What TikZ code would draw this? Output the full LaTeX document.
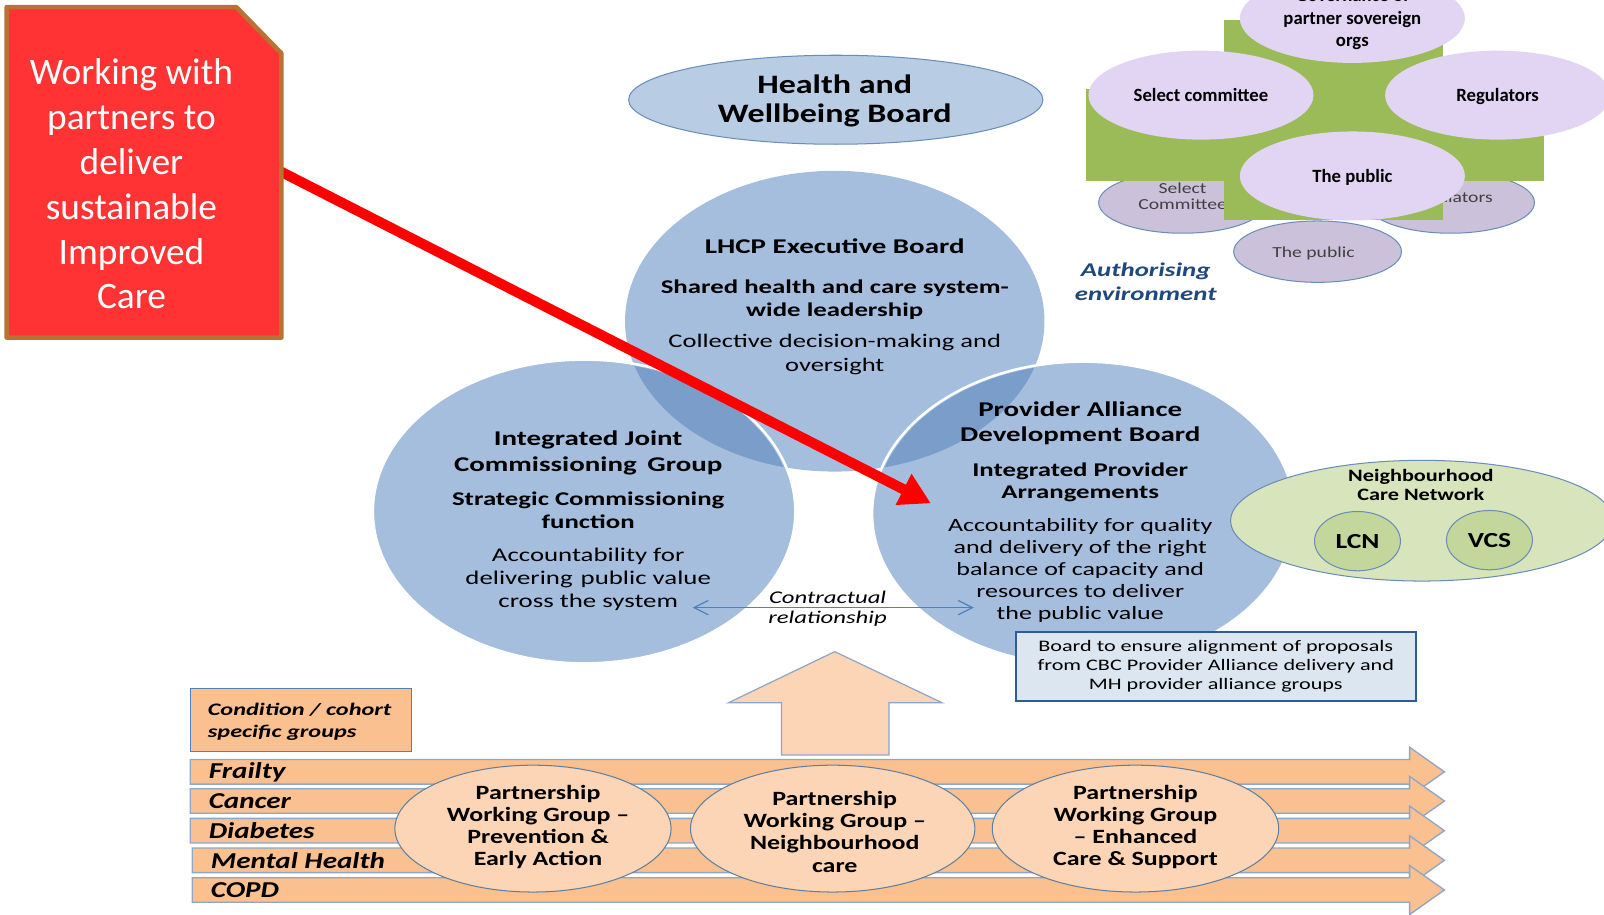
\documentclass[tikz,border=0pt]{standalone}
\usepackage{fontspec}
\usetikzlibrary{shapes.geometric,arrows.meta}
\setmainfont{Carlito}
\newfontfamily\cw[FakeStretch=1.28]{Carlito}
\newfontfamily\cx[FakeStretch=1.38]{Carlito}
\newcommand{\bandarrow}[3]{%
  \draw[bandline] (#1,{#2-12}) -- (1378,{#2-12}) -- (1378,{#2-24}) -- (1412,#2) -- (1378,{#2+24}) -- (1378,{#2+12}) -- (#1,{#2+12}) -- cycle;
  \node[bandtxt,anchor=west] (#3) at ({#1+18},#2) {#3};}
\tikzset{
  ell/.style 2 args={ellipse,minimum width=#1pt,minimum height=#2pt,inner sep=0pt},
  wtxt/.style 2 args={align=center,inner sep=0pt,font=\cx\fontsize{#1}{#2}\selectfont},
  btxt/.style 2 args={align=center,inner sep=0pt,font=\cx\bfseries\fontsize{#1}{#2}\selectfont},
  ptxt/.style={align=center,inner sep=0pt,font=\cw\bfseries\fontsize{19.8}{21.7}\selectfont},
  gtxt/.style={align=center,inner sep=0pt,font=\cw\fontsize{15}{16}\selectfont,text=black!75},
  ntxt/.style 2 args={align=center,inner sep=0pt,font=\fontsize{#1}{#2}\selectfont},
  blob/.style={fill=blobblue,draw=none},
  lilac/.style={ell={220}{87},fill=lilacfill,draw=none,font=\bfseries\fontsize{18.3}{22}\selectfont,text=black},
  lone/.style={text height=12.5pt,text depth=0pt},
  greyell/.style={ell={164}{60},fill=greyfill,draw=edgeblue,line width=1pt},
  peach/.style={ell={270}{124},fill=peachfill,draw=edgedark,line width=1pt},
  bandline/.style={fill=bandfill,draw=edgelight,line width=1.3pt,line join=miter},
  bandtxt/.style={inner sep=0pt,font=\cw\bfseries\itshape\fontsize{22.2}{24}\selectfont},
}
\definecolor{blobblue}{HTML}{A5BEDD}
\definecolor{blobdark}{HTML}{7A9DC9}
\definecolor{hwbfill}{HTML}{B8CCE4}
\definecolor{edgeblue}{HTML}{6A8DB8}
\definecolor{edgedark}{HTML}{5F7F9F}
\definecolor{edgelight}{HTML}{8FA6C6}
\definecolor{lilacfill}{HTML}{E2D5F3}
\definecolor{greyfill}{HTML}{CCC1DA}
\definecolor{greenfill}{HTML}{9BBB59}
\definecolor{peachfill}{HTML}{FBD5B5}
\definecolor{bandfill}{HTML}{FAC090}
\definecolor{ncnfill}{HTML}{D8E4BC}
\definecolor{lcnfill}{HTML}{C3D69B}
\definecolor{boardfill}{HTML}{DCE6F1}
\definecolor{boardedge}{HTML}{2F5C94}
\definecolor{redfill}{HTML}{FF3333}
\definecolor{rededge}{HTML}{B87333}
\definecolor{authblue}{HTML}{1F497D}
\definecolor{linkblue}{HTML}{4F81BD}
\begin{document}
\begin{tikzpicture}[x=1pt,y=-1pt]
\useasboundingbox (0,0) rectangle (1568,894);
\fill[white] (0,0) rectangle (1568,894);
\clip (0,0) rectangle (1568,894);

% health and wellbeing board
\node[ell={405}{87},fill=hwbfill,draw=edgeblue,line width=1pt] (hwb) at (817,97.5) {};
\node[align=center,inner sep=0pt,font=\cw\bfseries\fontsize{26}{28.5}\selectfont] (hwbt) at (816,99) {Health and\\Wellbeing Board};

% three overlapping circles
\node[ell={410}{294},blob] (top) at (816,314) {};
\node[ell={413}{297},blob,draw=white,line width=2.5pt] (left) at (571,500) {};
\node[ell={413}{297},blob,draw=white,line width=2.5pt] (right) at (1059,502) {};
\begin{scope}
  \clip (816,314) ellipse [x radius=205,y radius=147];
  \fill[blobdark] (571,500) ellipse [x radius=204,y radius=146.5];
  \fill[blobdark] (1059,502) ellipse [x radius=204,y radius=146.5];
\end{scope}

\node[btxt={20.5}{24}] (t1) at (816,241) {LHCP Executive Board};
\node[btxt={19}{23}] (t2) at (816,293) {Shared health and care system-\\wide leadership};
\node[wtxt={18.8}{23}] (t3) at (816,346.5) {Collective decision-making and\\oversight};

\node[btxt={20.5}{25}] (l1) at (575,442.5) {Integrated Joint\\Commissioning\hspace{4pt} Group};
\node[btxt={19}{22}] (l2) at (575,499) {Strategic Commissioning\\function};
\node[wtxt={19}{22.5}] (l3) at (575,566) {Accountability for\\delivering\hspace{2pt} public value\\cross the system};

\node[btxt={20.5}{24.5}] (r1) at (1056,414) {Provider Alliance\\Development Board};
\node[btxt={19}{22}] (r2) at (1056,471.5) {Integrated Provider\\Arrangements};
\node[wtxt={18.4}{21.5}] (r3) at (1056,558) {Accountability for quality\\and delivery of the right\\balance of capacity and\\resources to deliver\\the public value};

% contractual relationship
\coordinate (cl) at (677,594);
\coordinate (cr) at (952,594);
\draw[linkblue,line width=1.2pt,{Straight Barb[length=14pt,width=14pt]}-{Straight Barb[length=14pt,width=14pt]}] (cl) -- (cr);
\node[align=center,inner sep=0pt,font=\cx\itshape\fontsize{17.5}{20}\selectfont] (ct) at (809,595) {Contractual\\relationship};

% board note
\node[draw=boardedge,fill=boardfill,line width=1.8pt,minimum width=391pt,minimum height=67pt,wtxt={15.7}{18.5}] (board) at (1188.5,651.5) {\raisebox{-1pt}{\parbox{380pt}{\centering Board to ensure alignment of proposals\\from CBC Provider Alliance delivery and\\MH provider alliance groups}}};

% neighbourhood care network
\node[ell={374}{118},fill=ncnfill,draw=edgeblue,line width=1pt] (ncn) at (1390,509) {};
\node[align=center,inner sep=0pt,font=\cw\bfseries\fontsize{17}{18}\selectfont] (ncnt) at (1389,474) {Neighbourhood\\Care Network};
\node[ell={84}{58},fill=lcnfill,draw=edgeblue,line width=1pt,font=\cw\bfseries\fontsize{21}{24}\selectfont] (lcn) at (1327,529) {LCN};
\node[ell={84}{58},fill=lcnfill,draw=edgeblue,line width=1pt,font=\cw\bfseries\fontsize{21}{24}\selectfont] (vcs) at (1456,528) {VCS};

% authorising environment
\node[greyell] (g1) at (1156,198) {};
\node[gtxt] (g1t) at (1156,192) {Select\\Committee};
\node[greyell] (g2) at (1418,198) {};
\node[gtxt] (g2t) at (1418,194.5) {Regulators};
\node[greyell] (g3) at (1288,246) {};
\node[gtxt] (g3t) at (1284,247.5) {The public};
\fill[greenfill] (1197,20) rectangle (1411,215);
\fill[greenfill] (1062,87) rectangle (1509,177);
\node[lilac] (lt) at (1322,18) {};
\node[align=center,inner sep=0pt,font=\bfseries\fontsize{18.3}{22}\selectfont] (ltt) at (1322,19) {Governance of\\partner sovereign\\orgs};
\node[lilac,lone] (ls) at (1174,93) {Select committee};
\node[lilac,lone] (lr) at (1464,93) {Regulators};
\node[lilac,lone] (lp) at (1322,172) {The public};
\node[align=center,inner sep=0pt,font=\cx\bfseries\itshape\fontsize{19}{23}\selectfont,text=authblue] (auth) at (1120,275.5) {Authorising\\environment};

% condition groups
\node[draw=linkblue,fill=bandfill,line width=1pt,minimum width=216pt,minimum height=62pt,inner sep=0pt] (cond) at (294,704) {};
\node[align=left,inner sep=0pt,anchor=west,font=\cx\bfseries\itshape\fontsize{17.2}{21}\selectfont] (condt) at (203,705.5) {Condition / cohort\\specific groups};

% up arrow
\draw[fill=peachfill,draw=edgelight,line width=1.2pt,line join=miter] (816,637) -- (921,687) -- (869,687) -- (869,738) -- (764,738) -- (764,687) -- (712,687) -- cycle;

% bands
\bandarrow{186}{754.5}{Frailty}
\bandarrow{186}{783}{Cancer}
\bandarrow{186}{812}{Diabetes}
\bandarrow{188}{841}{Mental Health}
\bandarrow{188}{870}{COPD}

% partnership working groups
\node[peach] (p1) at (521,810) {};
\node[ptxt] (p1t) at (526,808.5) {Partnership\\Working Group –\\Prevention \&\\Early Action};
\node[peach,minimum width=278pt] (p2) at (814,810) {};
\node[ptxt] (p2t) at (816,813) {Partnership\\Working Group –\\Neighbourhood\\care};
\node[peach,minimum width=280pt] (p3) at (1110,810) {};
\node[ptxt] (p3t) at (1110,808.5) {Partnership\\Working Group\\– Enhanced\\Care \& Support};

% red callout
\coordinate (redstart) at (275,168);
\coordinate (redtip) at (910,492);
\draw[red,line width=10pt,-{Triangle[length=30pt,width=32pt]}] (redstart) -- (redtip);
\draw[fill=redfill,draw=rededge,line width=4.5pt,line join=round] (6.5,7) -- (231,7) -- (275,52) -- (275,330) -- (6.5,330) -- cycle;
\node[ntxt={36.5}{43.8},text=white] (redlabel) at (128.5,180) {Working with\\partners to\\deliver\\sustainable\\Improved\\Care};
\end{tikzpicture}
\end{document}
